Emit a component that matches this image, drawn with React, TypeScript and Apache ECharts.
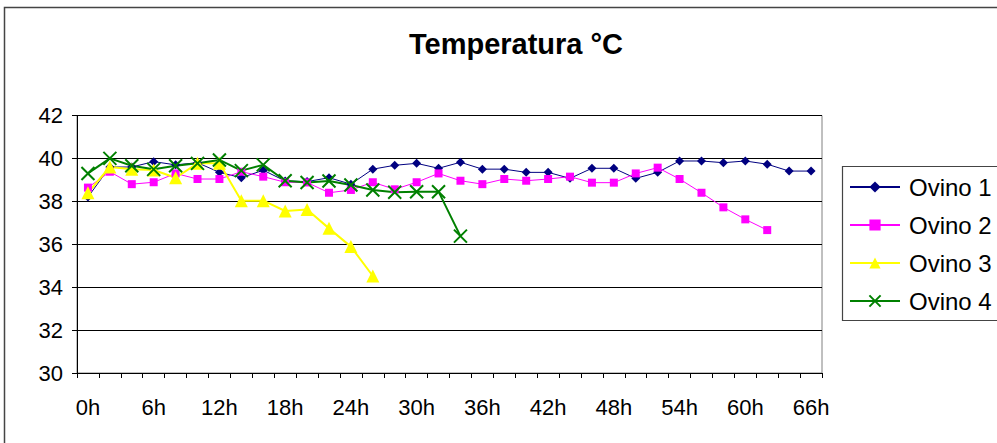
import React, { useEffect, useRef } from "react";
import * as echarts from "echarts";

const categories = [
  "0h", "2h", "4h", "6h", "8h", "10h", "12h", "14h", "16h", "18h", "20h", "22h",
  "24h", "26h", "28h", "30h", "32h", "34h", "36h", "38h", "40h", "42h", "44h", "46h",
  "48h", "50h", "52h", "54h", "56h", "58h", "60h", "62h", "64h", "66h",
];

const ovino1 = [
  38.2, 39.6, 39.6, 39.85, 39.7, 39.8, 39.35, 39.1, 39.45, 38.95, 38.92, 39.1,
  38.8, 39.5, 39.68, 39.77, 39.54, 39.82, 39.5, 39.5, 39.35, 39.35, 39.07, 39.54,
  39.54, 39.07, 39.35, 39.88, 39.88, 39.8, 39.88, 39.73, 39.41, 39.41,
];

const ovino2 = [
  38.64, 39.38, 38.8, 38.89, 39.3, 39.04, 39.04, 39.38, 39.15, 38.89, 38.88, 38.4,
  38.53, 38.89, 38.56, 38.89, 39.3, 38.96, 38.8, 39.04, 38.96, 39.04, 39.15, 38.87,
  38.87, 39.3, 39.57, 39.04, 38.4, 37.72, 37.16, 36.66,
];

const ovino3 = [
  38.4, 39.6, 39.5, 39.46, 39.1, 39.77, 39.77, 38.03, 38.03, 37.55, 37.62, 36.74,
  35.89, 34.52,
];

const ovino4 = [
  39.3, 40.0, 39.66, 39.49, 39.66, 39.77, 39.93, 39.43, 39.7, 38.96, 38.88, 38.95,
  38.76, 38.53, 38.42, 38.45, 38.45, 36.38,
];

const seriesNames = ["Ovino 1", "Ovino 2", "Ovino 3", "Ovino 4"];
const yTicks = { min: 30, max: 42, interval: 2 };

const FONT = "'Liberation Sans', Arial, sans-serif";

export default function App() {
  const ref = useRef<HTMLDivElement>(null);

  useEffect(() => {
    if (!ref.current) return;
    const chart = echarts.init(ref.current, null, { renderer: "svg" });
    const option: any = {
      animation: false,
      backgroundColor: "#ffffff",
      title: {
        text: "Temperatura °C",
        left: 511,
        top: 24,
        textAlign: "center",
        textStyle: {
          fontFamily: FONT,
          fontSize: 29,
          fontWeight: "bold",
          color: "#000",
        },
      },
      graphic: [
        {
          type: "rect",
          shape: { x: 4.5, y: 7.5, width: 1100, height: 600 },
          style: { fill: "none", stroke: "#444", lineWidth: 1.5 },
          silent: true,
          z: -1,
        },
        {
          type: "rect",
          shape: { x: 842.5, y: 166.5, width: 300, height: 154 },
          style: { fill: "#fff", stroke: "#444", lineWidth: 1.2 },
          silent: true,
          z: 0,
        },
      ],
      legend: {
        orient: "vertical",
        left: 849,
        top: 175,
        padding: 0,
        itemWidth: 50,
        itemHeight: 14,
        itemGap: 14,
        z: 10,
        textStyle: { fontFamily: FONT, fontSize: 24, color: "#000", padding: [0, 0, 0, 4] },
        data: seriesNames,
      },
      grid: {
        left: 77,
        right: 175,
        top: 115.5,
        bottom: 70,
        show: true,
        borderColor: "#808080",
        borderWidth: 1,
        backgroundColor: "#ffffff",
      },
      xAxis: {
        type: "category",
        data: categories,
        boundaryGap: true,
        axisLine: { lineStyle: { color: "#000", width: 1 } },
        axisTick: { show: true, interval: 0, length: 5, lineStyle: { color: "#000" } },
        axisLabel: {
          interval: 2,
          margin: 23,
          fontFamily: FONT,
          fontSize: 22,
          color: "#000",
        },
        splitLine: { show: false },
      },
      yAxis: {
        type: "value",
        min: yTicks.min,
        max: yTicks.max,
        interval: yTicks.interval,
        axisLine: { show: true, lineStyle: { color: "#000", width: 1 } },
        axisTick: { show: true, length: 5, lineStyle: { color: "#000" } },
        axisLabel: {
          margin: 14,
          fontFamily: FONT,
          fontSize: 22,
          color: "#000",
        },
        splitLine: { show: true, lineStyle: { color: "#000", width: 1 } },
      },
      series: [
        {
          name: "Ovino 1",
          type: "line",
          data: ovino1,
          symbol: "diamond",
          symbolSize: 9,
          lineStyle: { color: "#000080", width: 1 },
          itemStyle: { color: "#000080" },
        },
        {
          name: "Ovino 2",
          type: "line",
          data: ovino2,
          symbol: "rect",
          symbolSize: 8,
          lineStyle: { color: "#FF00FF", width: 1 },
          itemStyle: { color: "#FF00FF" },
        },
        {
          name: "Ovino 3",
          type: "line",
          data: ovino3,
          symbol: "triangle",
          symbolSize: 13,
          lineStyle: { color: "#FFFF00", width: 2 },
          itemStyle: { color: "#FFFF00" },
        },
        {
          name: "Ovino 4",
          type: "line",
          data: ovino4,
          symbol: "path://M0,0L10,10M10,0L0,10",
          symbolSize: 13,
          lineStyle: { color: "#008000", width: 2 },
          itemStyle: { color: "#008000", borderColor: "#008000", borderWidth: 2 },
        },
      ],
    };
    chart.setOption(option);
    return () => chart.dispose();
  }, []);

  return (
    <div
      ref={ref}
      style={{ position: "fixed", left: 0, top: 0, width: 997, height: 443 }}
    />
  );
}
